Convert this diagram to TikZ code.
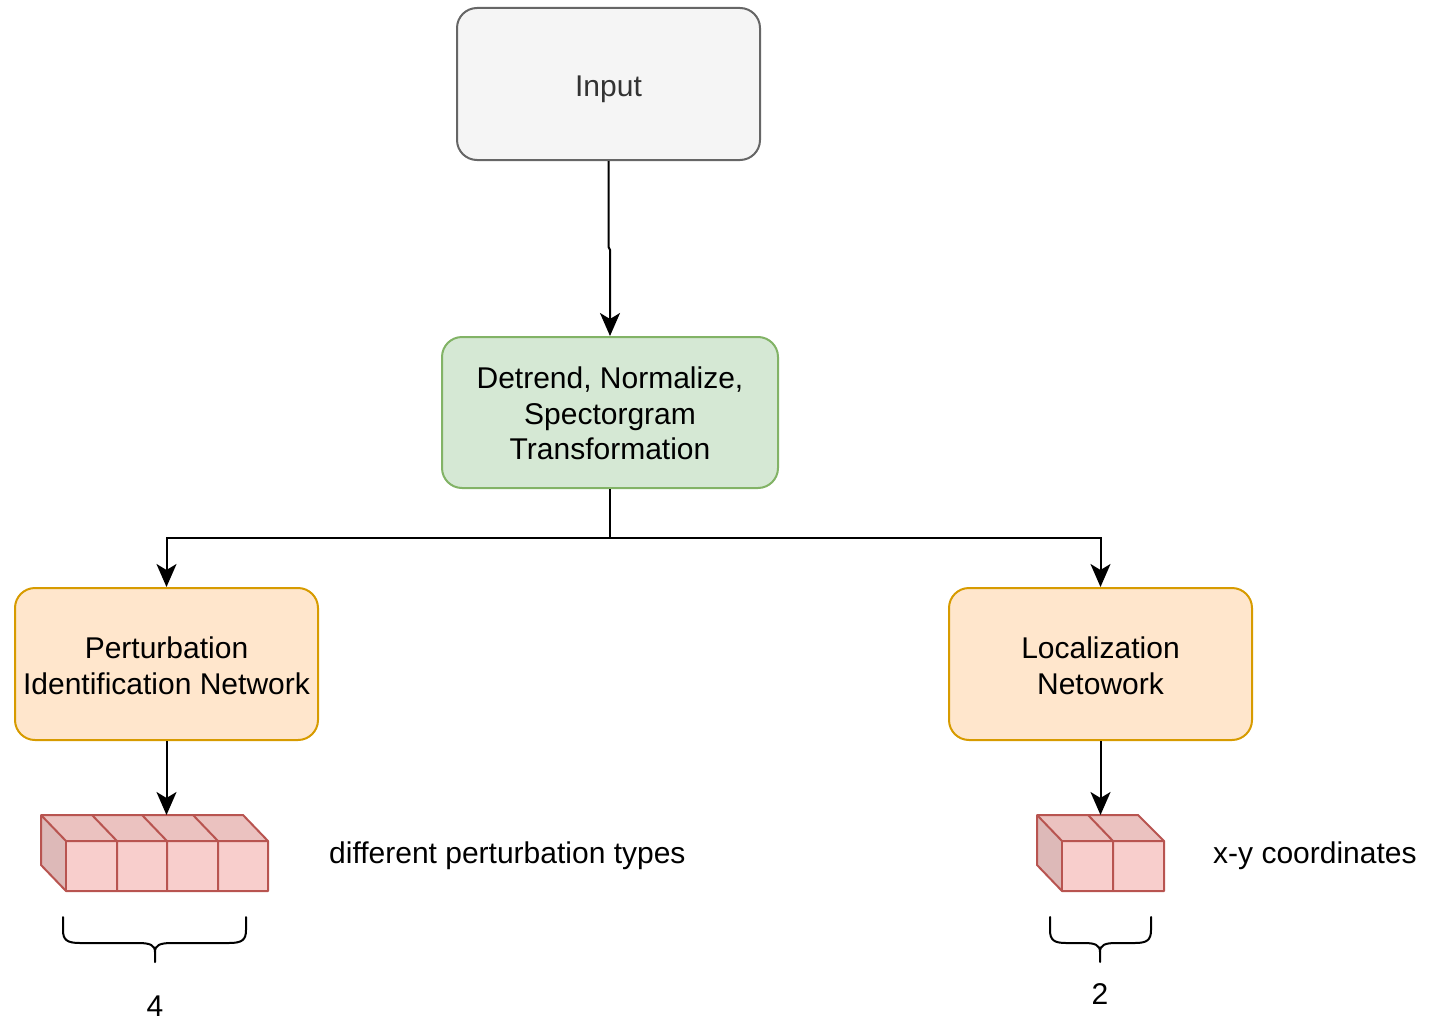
\documentclass[tikz,border=0pt]{standalone}
\usepackage{fontspec}
\setmainfont{Liberation Sans}
\usetikzlibrary{arrows.meta}
\definecolor{grayfill}{HTML}{F5F5F5}
\definecolor{graystroke}{HTML}{666666}
\definecolor{greenfill}{HTML}{D5E8D4}
\definecolor{greenstroke}{HTML}{82B366}
\definecolor{orangefill}{HTML}{FFE6CC}
\definecolor{orangestroke}{HTML}{D79B00}
\definecolor{cubefront}{HTML}{F8CECC}
\definecolor{cubetop}{HTML}{EBC2C0}
\definecolor{cubeside}{HTML}{DDB9B8}
\definecolor{cubestroke}{HTML}{B85450}
\definecolor{inputtext}{HTML}{333333}
\newcommand{\lowr}[2]{\raisebox{-#1}[\height][\depth]{#2}}
\tikzset{
  box/.style={draw, line width=2pt, rounded corners=20pt, align=center,
    font=\fontsize{30}{35.5}\selectfont, inner sep=0pt},
  inputbox/.style={box, fill=grayfill, draw=graystroke, text=inputtext,
    minimum width=303pt, minimum height=152pt},
  greenbox/.style={box, fill=greenfill, draw=greenstroke,
    minimum width=336pt, minimum height=151pt},
  orangebox/.style={box, fill=orangefill, draw=orangestroke,
    minimum width=303pt, minimum height=152pt},
  conn/.style={line width=2pt, -{Stealth[length=23pt,width=20pt,inset=6pt]}},
  plainline/.style={line width=2pt},
  lbl/.style={font=\fontsize{30}{35.5}\selectfont, inner sep=0pt},
  cubeline/.style={draw=cubestroke, line width=2pt, line join=round},
  bracestyle/.style={line width=2pt, line cap=round}
}
\begin{document}
\begin{tikzpicture}[x=1pt,y=-1pt]
\useasboundingbox (0,0) rectangle (1445,1022);

% nodes (text lowered a little, as in the reference)
\node[inputbox] (input) at (608.5,84) {\lowr{5pt}{Input}};
\node[greenbox] (pre) at (610,412.5) {\lowr{1pt}{Detrend, Normalize,}\\\lowr{1pt}{Spectorgram}\\\lowr{1pt}{Transformation}};
\node[orangebox] (pin) at (166.5,664) {\lowr{2pt}{Perturbation}\\\lowr{2pt}{Identification Network}};
\node[orangebox] (loc) at (1100.5,664) {\lowr{2pt}{Localization}\\\lowr{2pt}{Netowork}};

% left cube (4 cells)
\fill[cubetop] (41,815) -- (243,815) -- (268,841) -- (66,841) -- cycle;
\fill[cubeside] (41,815) -- (66,841) -- (66,891) -- (41,865) -- cycle;
\fill[cubefront] (66,841) rectangle (268,891);
\draw[cubeline] (41,815) -- (243,815) -- (268,841) -- (268,891) -- (66,891) -- (41,865) -- cycle;
\draw[cubeline] (41,815) -- (66,841) -- (268,841);
\draw[cubeline] (66,841) -- (66,891);
\foreach \xx in {117,167,218}{
  \draw[cubeline] (\xx-25,815) -- (\xx,841) -- (\xx,891);
}
\coordinate (cubeL) at (166.5,815);

% right cube (2 cells)
\fill[cubetop] (1037,815) -- (1138,815) -- (1164,841) -- (1062,841) -- cycle;
\fill[cubeside] (1037,815) -- (1062,841) -- (1062,891) -- (1037,865) -- cycle;
\fill[cubefront] (1062,841) rectangle (1164,891);
\draw[cubeline] (1037,815) -- (1138,815) -- (1164,841) -- (1164,891) -- (1062,891) -- (1037,865) -- cycle;
\draw[cubeline] (1037,815) -- (1062,841) -- (1164,841);
\draw[cubeline] (1062,841) -- (1062,891);
\draw[cubeline] (1088,815) -- (1113,841) -- (1113,891);
\coordinate (cubeR) at (1100.5,815);

% connectors
\coordinate (jog1) at (608.5,247);
\coordinate (jog2) at (610,250);
\draw[conn] (input.south) -- (jog1) -- (jog2) -- (pre.north);
\coordinate (split) at (610,538);
\coordinate (splitL) at (166.5,538);
\coordinate (splitR) at (1100.5,538);
\draw[plainline] (pre.south) -- (split);
\draw[conn] (split) -- (splitL) -- (pin.north);
\draw[conn] (split) -- (splitR) -- (loc.north);
\draw[conn] (pin.south) -- (cubeL);
\draw[conn] (loc.south) -- (cubeR);

% labels
\node[lbl, anchor=west] (types) at (329,856) {different perturbation types};
\node[lbl, anchor=west] (coords) at (1213,856) {x-y coordinates};

% braces
\draw[bracestyle] (63,917) -- (63,930) .. controls (63,940) and (67,943) .. (80,943)
  -- (138,943) .. controls (150,943) and (155,945) .. (155,952) -- (155,962);
\draw[bracestyle] (246,917) -- (246,930) .. controls (246,940) and (242,943) .. (229,943)
  -- (172,943) .. controls (160,943) and (155,945) .. (155,952);
\node[lbl] (four) at (155,1006) {4};

\draw[bracestyle] (1050,917) -- (1050,930) .. controls (1050,940) and (1054,943) .. (1066,943)
  -- (1084,943) .. controls (1095,943) and (1100,945) .. (1100,952) -- (1100,962);
\draw[bracestyle] (1151,917) -- (1151,930) .. controls (1151,940) and (1147,943) .. (1135,943)
  -- (1116,943) .. controls (1105,943) and (1100,945) .. (1100,952);
\node[lbl] (two) at (1100,994) {2};
\end{tikzpicture}
\end{document}
